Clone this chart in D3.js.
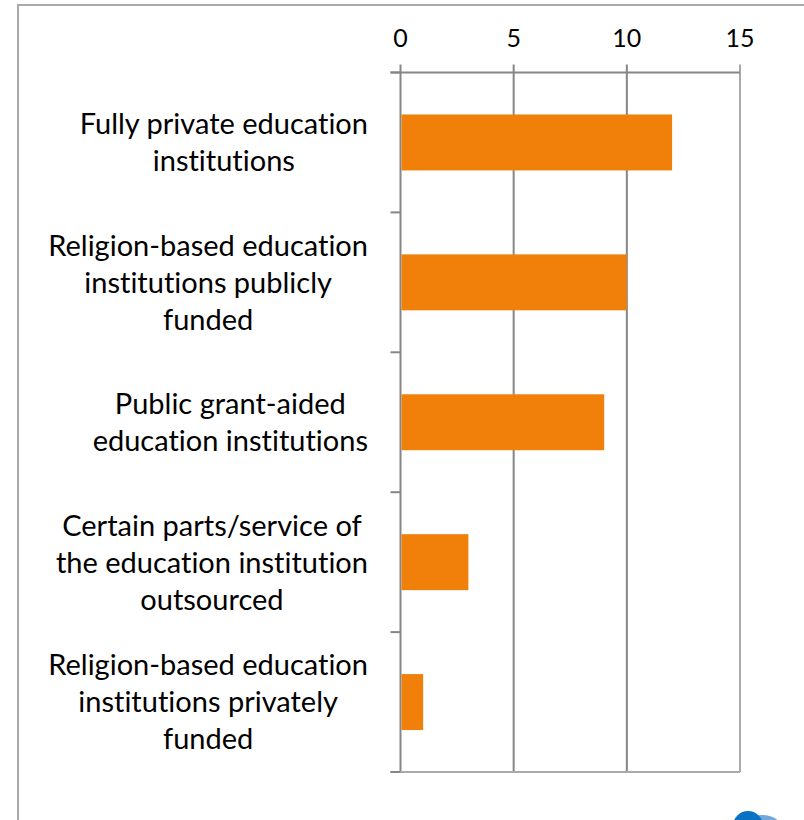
<!DOCTYPE html>
<html>
<head>
<meta charset="utf-8">
<script src="https://cdn.jsdelivr.net/npm/d3@7"></script>
<style>
  html, body { margin: 0; padding: 0; background: #fff; }
  svg { display: block; }
  text { font-family: Lato, "Open Sans", sans-serif; fill: #000; font-variant-ligatures: none; }
</style>
</head>
<body>
<svg id="chart" width="804" height="820"></svg>
<script>
// Categories (top to bottom) with their label lines, and the counts
const categories = [
  ["Fully private education", "institutions"],
  ["Religion-based education", "institutions publicly", "funded"],
  ["Public grant-aided", "education institutions"],
  ["Certain parts/service of", "the education institution", "outsourced"],
  ["Religion-based education", "institutions privately", "funded"]
];
const values = [12, 10, 9, 3, 1];
const xTicks = [0, 5, 10, 15];

const svg = d3.select("#chart");
const W = 804, H = 820;
const plot = { left: 400.5, right: 740, top: 72.5, bottom: 772 };
const gridColor = "#868686";
const edgeColor = "#a9a9a9";
const fontSize = 29;
const tickFontSize = 25;
const lineGap = 37;

// outer chart frame (its right and bottom edges run off the canvas)
svg.append("rect")
  .attr("x", 18).attr("y", 5)
  .attr("width", W).attr("height", H)
  .attr("fill", "none").attr("stroke", edgeColor).attr("stroke-width", 2);

const x = d3.scaleLinear().domain([0, 15]).range([plot.left, plot.right]);
const y = d3.scaleBand().domain(d3.range(categories.length))
  .range([plot.top, plot.bottom]).paddingInner(0.6).paddingOuter(0.3);

// vertical gridlines
svg.append("g").selectAll("line").data(xTicks).join("line")
  .attr("x1", d => x(d)).attr("x2", d => x(d))
  .attr("y1", plot.top - 8).attr("y2", plot.bottom)
  .attr("stroke", d => d === 15 ? edgeColor : gridColor)
  .attr("stroke-width", 2);

// top axis line
svg.append("line")
  .attr("x1", plot.left - 10).attr("x2", plot.right)
  .attr("y1", plot.top).attr("y2", plot.top)
  .attr("stroke", gridColor).attr("stroke-width", 2);

// bottom edge of the plot
svg.append("line")
  .attr("x1", plot.left - 10).attr("x2", plot.right)
  .attr("y1", plot.bottom).attr("y2", plot.bottom)
  .attr("stroke", edgeColor).attr("stroke-width", 2);

// category separator ticks on the left
const step = y.step();
const sepY = d3.range(categories.length + 1).map(i => plot.top + i * step);
svg.append("g").selectAll("line").data(sepY).join("line")
  .attr("x1", plot.left - 10).attr("x2", plot.left)
  .attr("y1", d => d).attr("y2", d => d)
  .attr("stroke", gridColor).attr("stroke-width", 2);

// x tick labels above the plot
svg.append("g").selectAll("text").data(xTicks).join("text")
  .attr("x", d => x(d)).attr("y", 47)
  .attr("text-anchor", "middle")
  .attr("font-size", tickFontSize)
  .text(d => d);

// bars
svg.append("g").selectAll("rect").data(values).join("rect")
  .attr("x", x(0) + 1)
  .attr("y", (d, i) => y(i))
  .attr("width", d => x(d) - x(0) - 1)
  .attr("height", y.bandwidth())
  .attr("fill", "#f0800a");

// category labels: lines centred on each other, block right-aligned
const labelRight = 368;
const lg = svg.append("g");
categories.forEach((lines, i) => {
  const cy = y(i) + y.bandwidth() / 2;
  const g = lg.append("g");
  const texts = lines.map((ln, j) => g.append("text")
    .attr("font-size", fontSize)
    .attr("text-anchor", "middle")
    .attr("y", cy + (j - (lines.length - 1) / 2) * lineGap + fontSize * 0.36)
    .text(ln));
  const maxW = d3.max(texts, t => t.node().getComputedTextLength());
  texts.forEach(t => t.attr("x", labelRight - maxW / 2));
});

// logo mark at the lower right corner
const logo = svg.append("g");
logo.append("ellipse")
  .attr("cx", 762).attr("cy", 832).attr("rx", 22).attr("ry", 17)
  .attr("fill", "#6fa8dc");
logo.append("circle")
  .attr("cx", 748).attr("cy", 826).attr("r", 15)
  .attr("fill", "#0a72c2");
</script>
</body>
</html>
